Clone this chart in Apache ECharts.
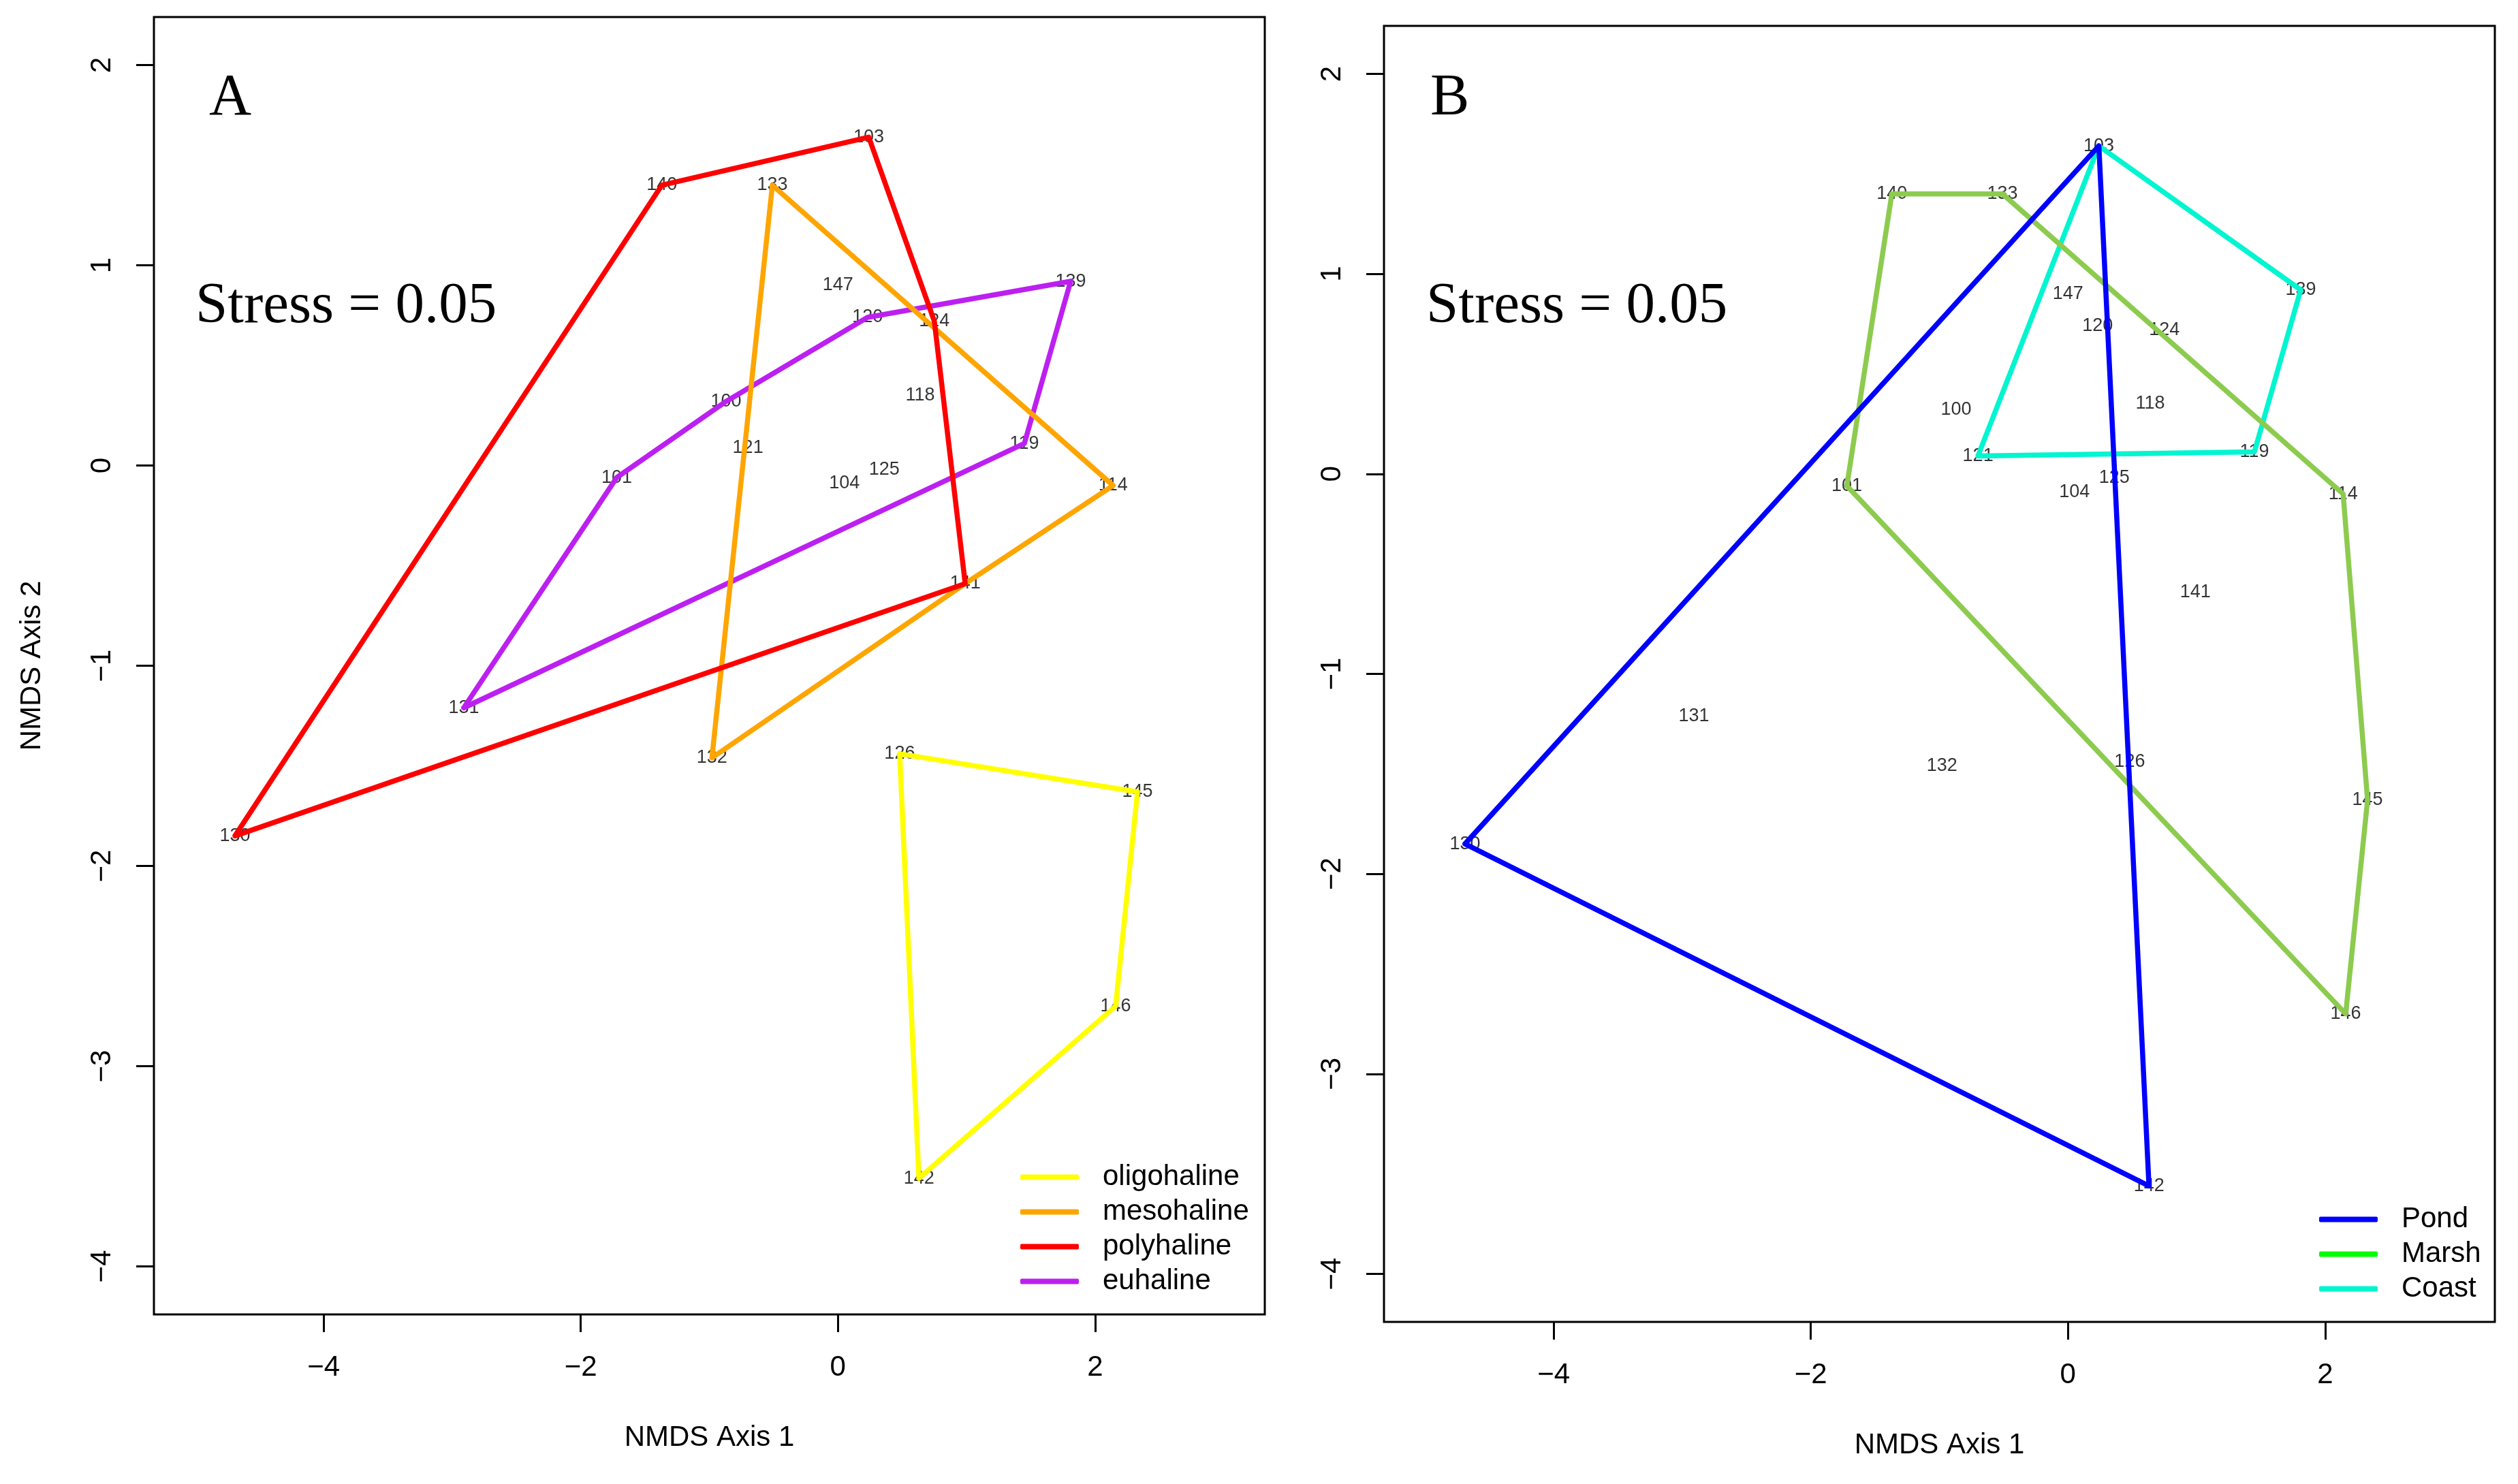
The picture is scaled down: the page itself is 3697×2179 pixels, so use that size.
<!DOCTYPE html>
<html>
<head>
<meta charset="utf-8">
<script src="https://cdn.jsdelivr.net/npm/echarts@6/dist/echarts.min.js"></script>
<style>
html, body { margin: 0; padding: 0; background: #fff; }
#chart1 { width: 3697px; height: 2179px; }
</style>
</head>
<body>
<div id="chart1"></div>
<script>
var chart1 = echarts.init(document.getElementById('chart1'));

// NMDS site scores
var sites = ['103', '140', '133', '147', '139', '120', '124', '100', '118', '121', '119', '125',
	'104', '101', '114', '141', '131', '132', '126', '145', '130', '146', '142'];
var axis1 = [0.24, -1.37, -0.51, 0.00, 1.81, 0.23, 0.75, -0.87, 0.64, -0.70, 1.45, 0.36,
	0.05, -1.72, 2.14, 0.99, -2.91, -0.98, 0.48, 2.33, -4.69, 2.16, 0.63];
var axis2 = [1.64, 1.40, 1.40, 0.90, 0.92, 0.74, 0.72, 0.32, 0.35, 0.09, 0.11, -0.02,
	-0.09, -0.06, -0.10, -0.59, -1.21, -1.46, -1.44, -1.63, -1.85, -2.70, -3.56];

// hull outlines, A: salinity
var hullOligohaline = ['126', '145', '146', '142'];
var hullMesohaline = ['133', '114', '141', '132'];
var hullPolyhaline = ['140', '103', '124', '141', '130'];
var hullEuhaline = ['131', '101', '100', '120', '139', '119'];
// hull outlines, B: habitat
var hullPond = ['103', '130', '142'];
var hullMarsh = ['140', '133', '114', '145', '146', '101'];
var hullCoast = ['103', '139', '119', '121'];

var salinityNames = ['oligohaline', 'mesohaline', 'polyhaline', 'euhaline'];
var habitatNames = ['Pond', 'Marsh', 'Coast'];
var xTicks = [-4, -2, 0, 2];
var yTicks = [-4, -3, -2, -1, 0, 1, 2];
var stressText = 'Stress = 0.05';

var sans = 'Liberation Sans';
var serif = 'Liberation Serif';

function hullPoints(hull) {
	var pts = hull.map(function (name) {
		var i = sites.indexOf(name);
		return [axis1[i], axis2[i]];
	});
	pts.push(pts[0]);
	return pts;
}

function minus(v) {
	return String(v).replace('-', '\u2212');
}

function xAxisFor(gridIndex) {
	return {
		type: 'value',
		gridIndex: gridIndex,
		min: -5.32,
		max: 3.32,
		name: 'NMDS Axis 1',
		nameLocation: 'middle',
		nameGap: 160,
		nameTextStyle: { fontSize: 42, fontFamily: sans, color: '#000' },
		axisLine: { show: false, onZero: false },
		splitLine: { show: false },
		axisTick: {
			show: true,
			length: 26,
			customValues: xTicks,
			lineStyle: { color: '#000', width: 3 }
		},
		axisLabel: {
			customValues: xTicks,
			margin: 57,
			fontSize: 42,
			fontFamily: sans,
			color: '#000',
			formatter: minus
		}
	};
}

function yAxisFor(gridIndex, name) {
	return {
		type: 'value',
		gridIndex: gridIndex,
		min: -4.24,
		max: 2.24,
		name: name,
		nameLocation: 'middle',
		nameGap: 158,
		nameTextStyle: { fontSize: 42, fontFamily: sans, color: '#000' },
		axisLine: { show: false, onZero: false },
		splitLine: { show: false },
		axisTick: {
			show: true,
			length: 26,
			customValues: yTicks,
			lineStyle: { color: '#000', width: 3 }
		},
		axisLabel: {
			customValues: yTicks,
			rotate: 90,
			margin: 55,
			fontSize: 42,
			fontFamily: sans,
			color: '#000',
			formatter: minus
		}
	};
}

function hullSeries(name, hull, color, panel) {
	return {
		name: name,
		type: 'line',
		xAxisIndex: panel,
		yAxisIndex: panel,
		data: hullPoints(hull),
		symbol: 'none',
		z: 3,
		silent: true,
		itemStyle: { color: color },
		lineStyle: { color: color, width: 7.5, cap: 'round', join: 'round' }
	};
}

function labelSeries(panel) {
	return {
		type: 'scatter',
		xAxisIndex: panel,
		yAxisIndex: panel,
		symbolSize: 1,
		z: 2,
		silent: true,
		itemStyle: { color: 'rgba(0,0,0,0)' },
		label: {
			show: true,
			position: 'inside',
			formatter: '{b}',
			fontSize: 27,
			fontFamily: sans,
			color: '#000'
		},
		data: sites.map(function (s, i) {
			return { name: s, value: [axis1[i], axis2[i]] };
		})
	};
}

function legendFor(names, colors, left, top) {
	return {
		orient: 'vertical',
		left: left,
		top: top,
		padding: 0,
		itemGap: 0,
		itemWidth: 86,
		itemHeight: 8,
		icon: 'roundRect',
		selectedMode: false,
		itemStyle: { borderWidth: 0 },
		textStyle: {
			fontSize: 42,
			fontFamily: sans,
			color: '#000',
			lineHeight: 51,
			padding: [0, 0, 0, 30]
		},
		data: names.map(function (n, i) {
			return { name: n, itemStyle: { color: colors[i], borderWidth: 0 } };
		})
	};
}

function panelText(x, y, text, size) {
	return {
		type: 'text',
		x: x,
		y: y,
		style: {
			text: text,
			fontSize: size,
			fontFamily: serif,
			fill: '#000',
			align: 'left',
			verticalAlign: 'middle'
		}
	};
}

var option = {
	backgroundColor: '#fff',
	animation: false,
	grid: [
		{ left: 226, top: 25, width: 1631, height: 1905, show: true, borderColor: '#000', borderWidth: 3, backgroundColor: 'transparent' },
		{ left: 2032, top: 38, width: 1631, height: 1903, show: true, borderColor: '#000', borderWidth: 3, backgroundColor: 'transparent' }
	],
	xAxis: [xAxisFor(0), xAxisFor(1)],
	yAxis: [yAxisFor(0, 'NMDS Axis 2'), yAxisFor(1, '')],
	legend: [
		legendFor(salinityNames, ['#ffff00', '#ffa500', '#ff0000', '#bc20f0'], 1498, 1703),
		legendFor(habitatNames, ['#0000ff', '#00ff00', '#00f5d0'], 3405, 1765)
	],
	graphic: [
		panelText(307, 145, 'A', 86),
		panelText(287, 451, stressText, 85),
		panelText(2100, 145, 'B', 86),
		panelText(2094, 451, stressText, 85)
	],
	series: [
		labelSeries(0),
		hullSeries('euhaline', hullEuhaline, '#bc20f0', 0),
		hullSeries('mesohaline', hullMesohaline, '#ffa500', 0),
		hullSeries('polyhaline', hullPolyhaline, '#ff0000', 0),
		hullSeries('oligohaline', hullOligohaline, '#ffff00', 0),
		labelSeries(1),
		hullSeries('Coast', hullCoast, '#00f5d0', 1),
		hullSeries('Marsh', hullMarsh, '#8dcb4f', 1),
		hullSeries('Pond', hullPond, '#0000ff', 1)
	]
};
chart1.setOption(option);
</script>
</body>
</html>
